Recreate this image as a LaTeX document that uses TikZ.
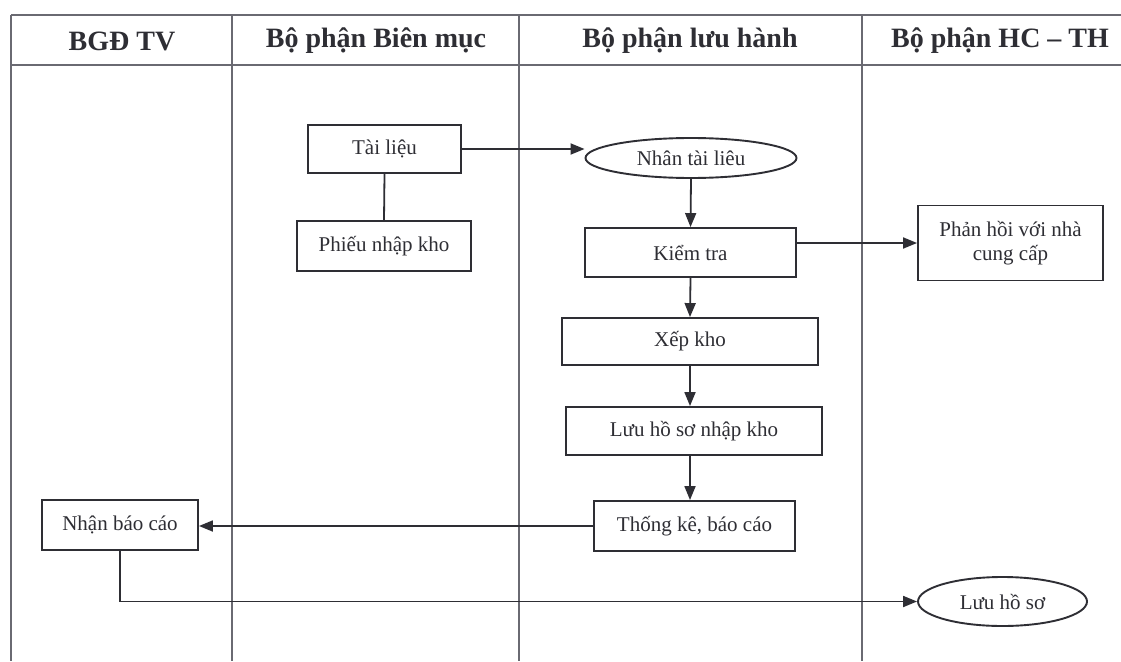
\documentclass[tikz,border=0pt]{standalone}
\usepackage{fontspec}
\setmainfont{Liberation Serif}
\usetikzlibrary{arrows.meta,shapes.geometric}
\definecolor{ink}{HTML}{2E2E34}
\definecolor{grid}{HTML}{6A6A72}
\begin{document}
\begin{tikzpicture}[x=1pt,y=-1pt,
  every node/.style={text=ink},
  stepbox/.style={draw=ink,line width=1.9pt,rectangle,inner sep=2pt,
    font=\fontsize{21}{24}\selectfont,align=center},
  oval/.style={draw=ink,line width=1.9pt,ellipse,inner sep=0pt,
    font=\fontsize{21}{24}\selectfont},
  head/.style={font=\fontsize{28}{30}\selectfont\bfseries},
  link/.style={draw=ink,line width=1.8pt},
  arr/.style={link,-{Triangle[length=14pt,width=11pt]}},
  rule/.style={draw=grid,line width=1.4pt}]
\useasboundingbox (0,0) rectangle (1121,661);
\fill[white] (0,0) rectangle (1121,661);

% swimlane grid
\draw[rule] (11,15) -- (1121,15);
\draw[rule] (11,65) -- (1121,65);
\foreach \x in {11,232,519,862} \draw[rule] (\x,15) -- (\x,661);

% lane titles
\node[head] (h1) at (122,41) {BGĐ TV};
\node[head] (h2) at (376,41) {Bộ phận Biên mục};
\node[head] (h3) at (690,41) {Bộ phận lưu hành};
\node[head] (h4) at (1000,41) {Bộ phận HC – TH};

% steps
\node[stepbox,minimum width=153pt,minimum height=48pt] (tl) at (384.5,149) {Tài liệu};
\node[stepbox,minimum width=174pt,minimum height=50pt] (pnk) at (384,246) {Phiếu nhập kho};
\node[oval,minimum width=211pt,minimum height=40pt] (nhan) at (691,158) {Nhân tài liêu};
\node[stepbox,minimum width=211pt,minimum height=49pt] (kt) at (690.5,252.5) {Kiểm tra};
\node[stepbox,minimum width=185pt,minimum height=75pt] (ph) at (1010.5,243) {Phản hồi với nhà\\cung cấp};
\node[stepbox,minimum width=256pt,minimum height=47pt] (xk) at (690,341.5) {Xếp kho};
\node[stepbox,minimum width=256pt,minimum height=48pt] (lhs) at (694,431) {Lưu hồ sơ nhập kho};
\node[stepbox,minimum width=201pt,minimum height=50pt] (tk) at (694.5,526) {Thống kê, báo cáo};
\node[stepbox,minimum width=156pt,minimum height=50pt] (nbc) at (120,525) {Nhận báo cáo};
\node[oval,minimum width=169pt,minimum height=49pt] (luu) at (1002.5,601.5) {Lưu hồ sơ};

% flow
\draw[arr] (tl.east) -- (tl.east -| nhan.west);
\draw[link] (tl.south) -- (pnk.north);
\draw[arr] (nhan.south) -- (kt.north);
\draw[arr] (kt.east |- ph.west) -- (ph.west);
\draw[arr] (kt.south) -- (xk.north);
\draw[arr] (xk.south) -- (xk.south |- lhs.north);
\draw[arr] (lhs.south -| xk.south) -- (tk.north -| xk.south);
\draw[arr] (tk.west) -- (tk.west -| nbc.east);
\draw[arr] (nbc.south) |- (luu.west);
\end{tikzpicture}
\end{document}
